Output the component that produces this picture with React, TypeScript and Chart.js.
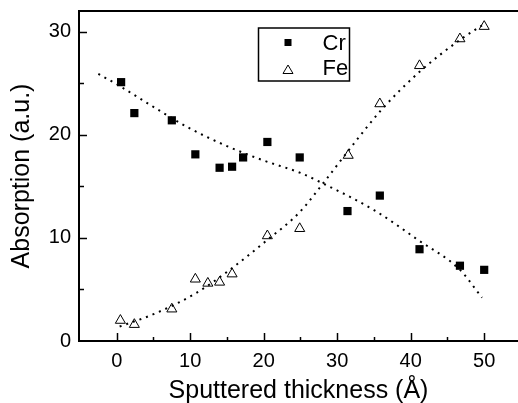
import React, { useEffect, useRef } from "react";
import { Chart, registerables } from "chart.js";

Chart.register(...registerables);

// Measured data
const crThickness = [0.6, 2.4, 7.5, 10.7, 14.0, 15.7, 17.2, 20.5, 24.9, 31.4, 35.8, 41.2, 46.7, 50.0];
const crAbsorption = [25.1, 22.1, 21.4, 18.1, 16.8, 16.9, 17.8, 19.3, 17.8, 12.6, 14.1, 8.9, 7.3, 6.9];
const feThickness = [0.5, 2.4, 7.5, 10.7, 12.4, 14.0, 15.7, 20.5, 24.9, 31.5, 35.8, 41.2, 46.7, 50.0];
const feAbsorption = [2.0, 1.6, 3.1, 6.0, 5.6, 5.7, 6.5, 10.2, 10.9, 18.0, 23.0, 26.7, 29.3, 30.5];

// Fitted (dotted) curves
const crFitX = [-2.5, 0, 5, 10, 15, 20, 25, 28, 35, 41, 46.7, 49.7];
const crFitY = [25.9, 24.9, 22.7, 20.6, 18.9, 17.5, 16.3, 15.3, 12.7, 9.8, 6.9, 4.2];
const feFitX = [0.4, 5, 10.7, 15, 20.5, 24.9, 28.1, 32, 36, 41.2, 46.7, 49.7];
const feFitY = [1.4, 2.6, 4.6, 6.7, 9.8, 12.5, 15.3, 18.9, 22.4, 26.1, 29.2, 30.6];

const legendLabels = ["Cr", "Fe"];
const xTitle = "Sputtered thickness (Å)";
const yTitle = "Absorption (a.u.)";

const FONT = "Arial, 'Liberation Sans', sans-serif";

const zip = (xs: number[], ys: number[]) => xs.map((x, i) => ({ x, y: ys[i] }));

const framePlugin = {
  id: "frame",
  afterDraw(chart: any) {
    const { ctx, chartArea, scales } = chart;
    const xs = scales.x;
    const ys = scales.y;
    ctx.save();
    ctx.strokeStyle = "#000";
    // top border
    ctx.lineWidth = 2;
    ctx.beginPath();
    ctx.moveTo(chartArea.left - 1, chartArea.top);
    ctx.lineTo(chartArea.right, chartArea.top);
    ctx.stroke();
    // inward ticks
    ctx.lineWidth = 1.5;
    for (let v = -5; v <= 55; v += 5) {
      if (v < xs.min || v > xs.max) continue;
      const px = Math.round(xs.getPixelForValue(v)) + 0.5;
      if (px < chartArea.left + 3) continue;
      const len = v % 10 === 0 ? 8 : 4;
      ctx.beginPath();
      ctx.moveTo(px, chartArea.bottom);
      ctx.lineTo(px, chartArea.bottom - len);
      ctx.stroke();
    }
    for (let v = 5; v <= 30; v += 5) {
      const py = Math.round(ys.getPixelForValue(v)) + 0.5;
      const len = v % 10 === 0 ? 8 : 5;
      ctx.beginPath();
      ctx.moveTo(chartArea.left, py);
      ctx.lineTo(chartArea.left + len, py);
      ctx.stroke();
    }
    // legend
    const bx = chartArea.left + 179.5;
    const by = chartArea.top + 17;
    const bw = 91;
    const bh = 53;
    ctx.fillStyle = "#000";
    ctx.font = `22px ${FONT}`;
    ctx.textBaseline = "alphabetic";
    ctx.textAlign = "left";
    ctx.fillText(legendLabels[0], bx + 64, by + 22);
    ctx.fillText(legendLabels[1], bx + 64, by + 47);
    ctx.fillRect(bx + 26, by + 11, 7, 7);
    ctx.lineWidth = 1;
    ctx.beginPath();
    ctx.moveTo(bx + 29.5, by + 37);
    ctx.lineTo(bx + 34.5, by + 45.5);
    ctx.lineTo(bx + 24.5, by + 45.5);
    ctx.closePath();
    ctx.stroke();
    ctx.lineWidth = 1.5;
    ctx.strokeRect(bx, by, bw, bh);
    ctx.restore();
  },
};

export default function App() {
  const ref = useRef<HTMLCanvasElement | null>(null);

  useEffect(() => {
    if (!ref.current) return;
    const chart = new Chart(ref.current, {
      type: "scatter",
      data: {
        datasets: [
          {
            label: "Cr fit",
            data: zip(crFitX, crFitY),
            showLine: true,
            pointRadius: 0,
            borderColor: "#000",
            borderWidth: 2,
            borderDash: [2, 5],
            cubicInterpolationMode: "monotone",
          },
          {
            label: "Fe fit",
            data: zip(feFitX, feFitY),
            showLine: true,
            pointRadius: 0,
            borderColor: "#000",
            borderWidth: 2,
            borderDash: [2, 5],
            cubicInterpolationMode: "monotone",
          },
          {
            label: legendLabels[0],
            data: zip(crThickness, crAbsorption),
            pointStyle: "rect",
            pointRadius: 5.8,
            backgroundColor: "#000",
            borderColor: "#000",
            borderWidth: 0,
          },
          {
            label: legendLabels[1],
            data: zip(feThickness, feAbsorption),
            pointStyle: "triangle",
            pointRadius: 5.8,
            backgroundColor: "rgba(0,0,0,0)",
            borderColor: "#000",
            borderWidth: 1,
          },
        ],
      } as any,
      options: {
        animation: false,
        responsive: false,
        maintainAspectRatio: false,
        layout: { autoPadding: false, padding: { top: 11, right: 0, left: 0, bottom: 0 } },
        plugins: { legend: { display: false }, tooltip: { enabled: false } },
        scales: {
          x: {
            type: "linear",
            min: -5.13,
            max: 54.6,
            grid: { display: false, drawTicks: false },
            border: { display: true, color: "#000", width: 2 },
            ticks: {
              stepSize: 10,
              includeBounds: false,
              color: "#000",
              font: { size: 20, family: FONT },
              padding: 8,
              maxRotation: 0,
            },
            title: {
              display: true,
              text: xTitle,
              color: "#000",
              font: { size: 25, family: FONT },
              padding: { top: 0, bottom: -3 },
            },
            afterFit: (s: any) => {
              s.height = 62;
              s.paddingLeft = 0;
              s.paddingRight = 0;
            },
          },
          y: {
            type: "linear",
            min: 0,
            max: 32,
            grid: { display: false, drawTicks: false },
            border: { display: true, color: "#000", width: 2 },
            ticks: {
              stepSize: 10,
              includeBounds: false,
              color: "#000",
              font: { size: 20, family: FONT },
              padding: 8,
            },
            title: {
              display: true,
              text: yTitle,
              color: "#000",
              font: { size: 25, family: FONT },
              padding: { top: 7, bottom: 0 },
            },
            afterFit: (s: any) => {
              s.width = 79;
              s.paddingTop = 0;
              s.paddingBottom = 0;
            },
          },
        },
      } as any,
      plugins: [framePlugin],
    });
    return () => chart.destroy();
  }, []);

  return (
    <div style={{ position: "fixed", left: 0, top: 0, width: 518, height: 403, background: "#fff" }}>
      <canvas ref={ref} width={518} height={403} style={{ display: "block" }} />
    </div>
  );
}
